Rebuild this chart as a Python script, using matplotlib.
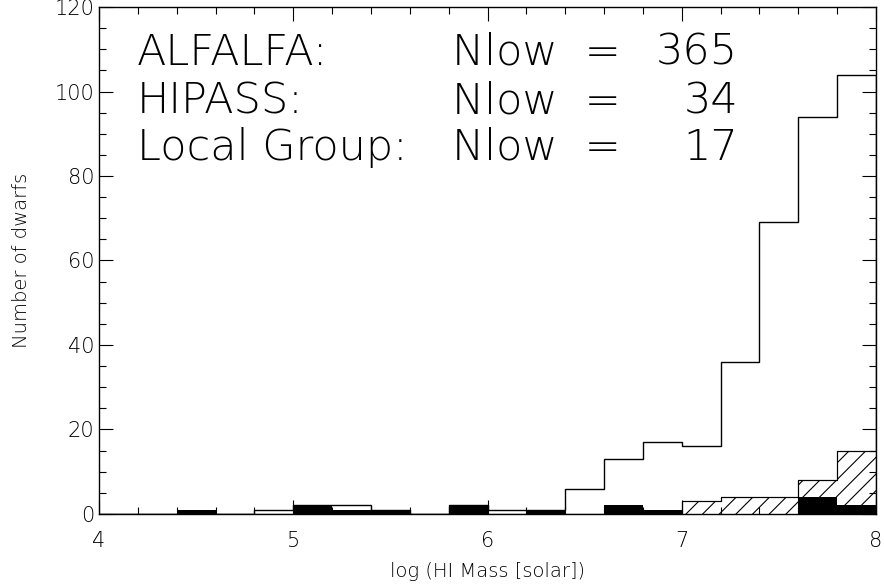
import matplotlib.pyplot as plt
import numpy as np

# bins of log HI mass, 0.2 dex wide
edges = np.round(np.arange(4.0, 8.01, 0.2), 1)
alfalfa = [0, 0, 0, 0, 1, 2, 2, 1, 0, 2, 1, 1, 6, 13, 17, 16, 36, 69, 94, 104]
hipass = [0, 0, 0, 0, 0, 0, 0, 0, 0, 0, 0, 0, 0, 0, 0, 3, 4, 4, 8, 15]
local_group = [0, 0, 1, 0, 0, 2, 1, 1, 0, 2, 0, 1, 0, 2, 1, 0, 0, 0, 4, 2]

labels = ['ALFALFA:', 'HIPASS:', 'Local Group:']
nlow = [365, 34, 17]

plt.rcParams['hatch.linewidth'] = 0.8
plt.rcParams['font.weight'] = 'light'
plt.rcParams['axes.labelweight'] = 'light'

fig = plt.figure(figsize=(8.84, 5.86), dpi=100)
ax = fig.add_axes([0.112, 0.123, 0.879, 0.865])

left = edges[:-1]
ax.stairs(alfalfa, edges, color='black', lw=1.0, baseline=0)
ax.stairs(hipass, edges, baseline=0, fill=True, facecolor='white',
          edgecolor='black', hatch='//', lw=0.8)
ax.stairs(hipass, edges, baseline=0, color='black', lw=0.8)
ax.bar(left, local_group, width=0.2, align='edge', color='black', lw=0)

ax.set_xlim(4, 8)
ax.set_ylim(0, 120)
ax.set_xticks([4, 5, 6, 7, 8])
ax.set_xticks(np.arange(4, 8.01, 0.2), minor=True)
ax.set_yticks(np.arange(0, 121, 20))
ax.set_yticks(np.arange(0, 121, 5), minor=True)
ax.tick_params(which='both', direction='in', top=True, right=True,
               labelsize=15, width=0.8)
ax.tick_params(which='major', length=10)
ax.tick_params(which='minor', length=5)
ax.tick_params(axis='x', pad=12)
for s in ax.spines.values():
    s.set_linewidth(1.0)

ax.set_xlabel('log (HI Mass [solar])', fontsize=14, labelpad=8)
ax.set_ylabel('Number of dwarfs', fontsize=14, labelpad=17)

ys = [106.3, 94.9, 83.8]
for lab, n, y in zip(labels, nlow, ys):
    ax.text(4.196, y, lab, fontsize=31, va='baseline', ha='left')
    ax.text(5.817, y, 'Nlow  =', fontsize=31, va='baseline', ha='left')
    ax.text(7.29, y, str(n), fontsize=31, va='baseline', ha='right')

fig.savefig('out.png', dpi=100)
